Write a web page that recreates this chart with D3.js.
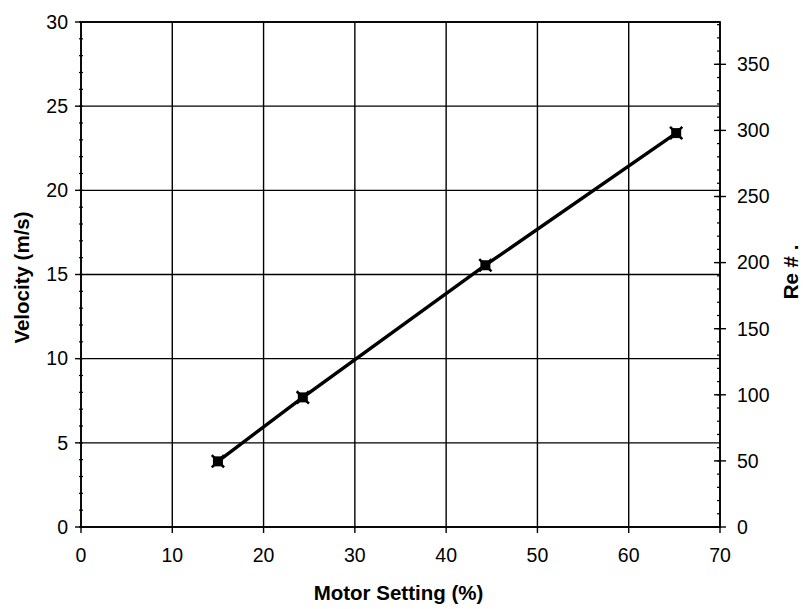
<!DOCTYPE html>
<html lang="en">
<head>
<meta charset="UTF-8">
<title>Velocity vs Motor Setting</title>
<script src="https://cdn.jsdelivr.net/npm/d3@7/dist/d3.min.js"></script>
<style>
  body { margin: 0; background: #fff; }
  text { font-family: "Liberation Sans", Arial, sans-serif; fill: #000; }
</style>
</head>
<body>
<div id="main_container"></div>
<script>
// data
var motorSetting = [15, 24.3, 44.3, 65.2];
var velocity = [3.9, 7.7, 15.55, 23.4];
var xTicks = [0, 10, 20, 30, 40, 50, 60, 70];
var yTicks = [0, 5, 10, 15, 20, 25, 30];
var reTicks = [0, 50, 100, 150, 200, 250, 300, 350];

var svgWidth = 804, svgHeight = 609;
var margin = {left: 81, right: 84, top: 22, bottom: 82};
var w = svgWidth - margin.left - margin.right;
var h = svgHeight - margin.top - margin.bottom;

var svg = d3.select("#main_container").append("svg")
    .attr("width", svgWidth)
    .attr("height", svgHeight);
var g = svg.append("g")
    .attr("transform", "translate(" + margin.left + "," + margin.top + ")");

var x = d3.scaleLinear().domain([0, 70]).range([0, w]);
var y = d3.scaleLinear().domain([0, 30]).range([h, 0]);
var yRe = d3.scaleLinear().domain([0, 382]).range([h, 0]);

// grid
g.selectAll(".vgrid").data(xTicks).enter().append("line")
    .attr("x1", d => x(d)).attr("x2", d => x(d))
    .attr("y1", 0).attr("y2", h)
    .attr("stroke", "#000").attr("stroke-width", 1.4);
g.selectAll(".hgrid").data(yTicks).enter().append("line")
    .attr("x1", 0).attr("x2", w)
    .attr("y1", d => y(d)).attr("y2", d => y(d))
    .attr("stroke", "#000").attr("stroke-width", 1.4);

// frame
g.append("rect").attr("width", w).attr("height", h)
    .attr("fill", "none").attr("stroke", "#000").attr("stroke-width", 1.7);

// left axis: major ticks outside, minor every 1
g.selectAll(".ymin").data(d3.range(0, 31, 1)).enter().append("line")
    .attr("x1", -2).attr("x2", 2)
    .attr("y1", d => y(d)).attr("y2", d => y(d))
    .attr("stroke", "#000").attr("stroke-width", 1.2);
g.selectAll(".ymaj").data(yTicks).enter().append("line")
    .attr("x1", -6).attr("x2", 0)
    .attr("y1", d => y(d)).attr("y2", d => y(d))
    .attr("stroke", "#000").attr("stroke-width", 1.4);
g.selectAll(".ylab").data(yTicks).enter().append("text")
    .attr("x", -13).attr("y", d => y(d)).attr("dy", "0.35em")
    .attr("text-anchor", "end").style("font-size", "19.5px")
    .text(d => d);

// bottom axis
g.selectAll(".xmaj").data(xTicks).enter().append("line")
    .attr("x1", d => x(d)).attr("x2", d => x(d))
    .attr("y1", h).attr("y2", h + 6)
    .attr("stroke", "#000").attr("stroke-width", 1.4);
g.selectAll(".xlab").data(xTicks).enter().append("text")
    .attr("x", d => x(d)).attr("y", h + 35)
    .attr("text-anchor", "middle").style("font-size", "19.5px")
    .text(d => d);

// right axis (Re #)
g.selectAll(".remin").data(d3.range(0, 381, 10)).enter().append("line")
    .attr("x1", w - 3).attr("x2", w)
    .attr("y1", d => yRe(d)).attr("y2", d => yRe(d))
    .attr("stroke", "#000").attr("stroke-width", 1.2);
g.selectAll(".remaj").data(reTicks).enter().append("line")
    .attr("x1", w - 6).attr("x2", w + 6)
    .attr("y1", d => yRe(d)).attr("y2", d => yRe(d))
    .attr("stroke", "#000").attr("stroke-width", 1.4);
g.selectAll(".relab").data(reTicks).enter().append("text")
    .attr("x", w + 17).attr("y", d => yRe(d)).attr("dy", "0.35em")
    .attr("text-anchor", "start").style("font-size", "19.5px")
    .text(d => d);

// series
var pts = motorSetting.map((m, i) => [m, velocity[i]]);
g.append("path").datum(pts)
    .attr("fill", "none").attr("stroke", "#000").attr("stroke-width", 3.4)
    .attr("d", d3.line().x(d => x(d[0])).y(d => y(d[1])));
g.selectAll(".pt").data(pts).enter().append("rect")
    .attr("x", d => x(d[0]) - 5).attr("y", d => y(d[1]) - 5)
    .attr("width", 10).attr("height", 10)
    .attr("fill", "#000");
g.selectAll(".pt2").data(pts).enter().append("path")
    .attr("transform", d => "translate(" + x(d[0]) + "," + y(d[1]) + ")")
    .attr("d", d3.symbol(d3.symbolX, 100)())
    .attr("stroke", "#000").attr("stroke-width", 2.5);

// titles
svg.append("text")
    .attr("x", margin.left + w / 2 - 2).attr("y", 600)
    .attr("text-anchor", "middle")
    .style("font-size", "20.5px").style("font-weight", "bold")
    .text("Motor Setting (%)");
svg.append("text")
    .attr("transform", "translate(29," + (margin.top + h / 2 + 3) + ") rotate(-90)")
    .attr("text-anchor", "middle")
    .style("font-size", "20.5px").style("font-weight", "bold")
    .text("Velocity (m/s)");
svg.append("text")
    .attr("transform", "translate(798,272) rotate(-90)")
    .attr("text-anchor", "middle")
    .style("font-size", "20.5px").style("font-weight", "bold")
    .text("Re # .");
</script>
</body>
</html>
